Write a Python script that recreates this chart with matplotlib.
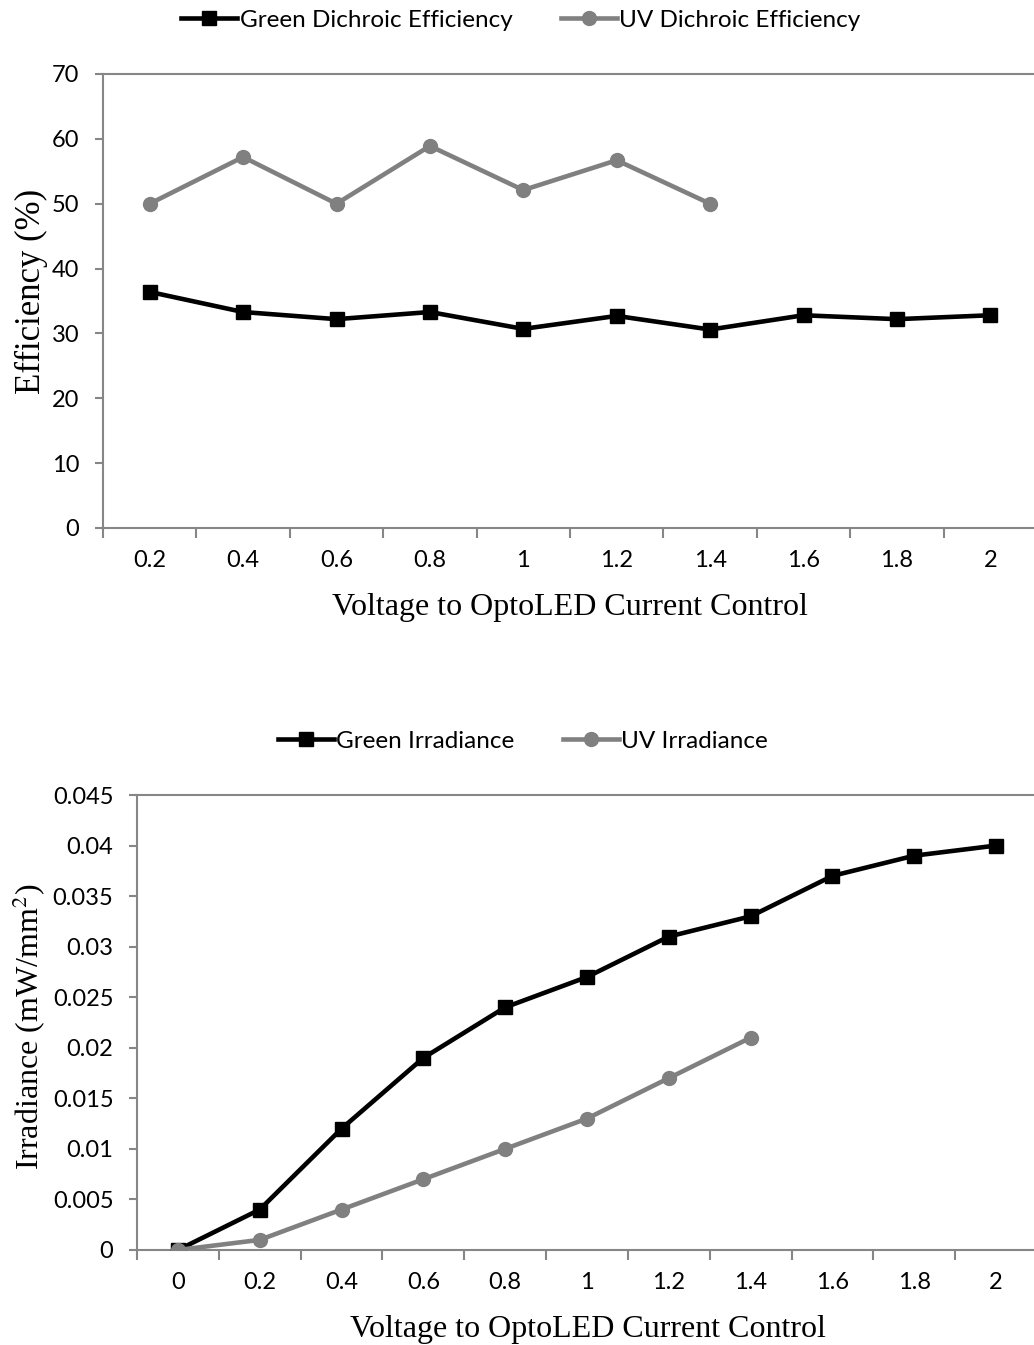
import matplotlib
matplotlib.use("Agg")
import matplotlib.pyplot as plt
import numpy as np

# Top chart data
eff_categories = ["0.2", "0.4", "0.6", "0.8", "1", "1.2", "1.4", "1.6", "1.8", "2"]
green_eff = [36.4, 33.3, 32.2, 33.3, 30.7, 32.7, 30.6, 32.8, 32.2, 32.8]
uv_eff = [50.0, 57.2, 50.0, 58.9, 52.1, 56.7, 50.0]

# Bottom chart data
irr_categories = ["0", "0.2", "0.4", "0.6", "0.8", "1", "1.2", "1.4", "1.6", "1.8", "2"]
green_irr = [0, 0.004, 0.012, 0.019, 0.024, 0.027, 0.031, 0.033, 0.037, 0.039, 0.040]
uv_irr = [0, 0.001, 0.004, 0.007, 0.010, 0.013, 0.017, 0.021]
irr_ticks = [0, 0.005, 0.01, 0.015, 0.02, 0.025, 0.03, 0.035, 0.04, 0.045]
irr_ticklabels = ["0", "0.005", "0.01", "0.015", "0.02", "0.025", "0.03", "0.035", "0.04", "0.045"]

plt.rcParams["mathtext.fontset"] = "stix"

TICKFONT = "Lato"
TITLEFONT = "Liberation Serif"
GRAY = "#868686"
UVCOL = "#808080"
TFS = 17
LFS = 17.5

W, H = 1034, 1345
fig = plt.figure(figsize=(W / 100, H / 100), dpi=100)

def style_axes(ax, ncat, labels):
    ax.spines["right"].set_visible(False)
    for s in ["left", "bottom", "top"]:
        ax.spines[s].set_color(GRAY)
        ax.spines[s].set_linewidth(1.5)
    ax.set_xlim(-0.5, ncat - 0.5)
    ax.set_xticks(np.arange(ncat))
    ax.set_xticklabels(labels, fontfamily=TICKFONT, fontsize=TFS)
    ax.tick_params(axis="x", which="major", length=0, pad=16)
    ax.set_xticks(np.arange(ncat + 1) - 0.5, minor=True)
    ax.tick_params(axis="x", which="minor", length=7, width=1.5, color=GRAY, direction="out")
    ax.tick_params(axis="y", length=6, width=1.5, color=GRAY, direction="out", pad=11)

def place(ax, left, top, right, bottom):
    ax.set_position([left / W, 1 - bottom / H, (right - left) / W, (bottom - top) / H])

# Top chart
ax1 = fig.add_axes([0, 0, 1, 1])
place(ax1, 103, 74, 1037, 528)
x1 = np.arange(len(eff_categories))
ax1.plot(x1, green_eff, color="black", lw=3.3, marker="s", ms=9.5,
         label="Green Dichroic Efficiency", zorder=3)
ax1.plot(x1[:len(uv_eff)], uv_eff, color=UVCOL, lw=3.3, marker="o", ms=10,
         label="UV Dichroic Efficiency", zorder=3)
ax1.set_ylim(0, 70)
ax1.set_yticks(range(0, 71, 10))
ax1.set_yticklabels([str(v) for v in range(0, 71, 10)], fontfamily=TICKFONT, fontsize=TFS)
style_axes(ax1, len(eff_categories), eff_categories)
ax1.set_ylabel("Efficiency (%)", fontfamily=TITLEFONT, fontsize=25)
ax1.yaxis.label.set_va("center")
ax1.yaxis.set_label_coords((31 - 103) / 934, (528 - 291) / 454)
ax1.set_xlabel("Voltage to OptoLED Current Control", fontfamily=TITLEFONT, fontsize=23)
ax1.xaxis.label.set_va("center")
ax1.xaxis.set_label_coords((570 - 103) / 934, (528 - 607) / 454)
ax1.legend(loc="center", bbox_to_anchor=((521 - 103) / 934, 1 + (74 - 20) / 454),
           ncol=2, frameon=False, prop={"family": TICKFONT, "size": LFS},
           handlelength=2.3, handletextpad=0.1, columnspacing=2.0, borderaxespad=0)

# Bottom chart
ax2 = fig.add_axes([0, 0, 1, 1])
place(ax2, 137, 795, 1037, 1250)
x2 = np.arange(len(irr_categories))
ax2.plot(x2, green_irr, color="black", lw=3.3, marker="s", ms=9.5,
         label="Green Irradiance", zorder=3)
ax2.plot(x2[:len(uv_irr)], uv_irr, color=UVCOL, lw=3.3, marker="o", ms=10,
         label="UV Irradiance", zorder=3)
ax2.set_ylim(0, 0.045)
ax2.set_yticks(irr_ticks)
ax2.set_yticklabels(irr_ticklabels, fontfamily=TICKFONT, fontsize=TFS)
style_axes(ax2, len(irr_categories), irr_categories)
ax2.set_ylabel("Irradiance (mW/mm$^{2}$)", fontfamily=TITLEFONT, fontsize=23)
ax2.yaxis.label.set_va("center")
ax2.yaxis.set_label_coords((29 - 137) / 900, (1250 - 1027) / 455)
ax2.set_xlabel("Voltage to OptoLED Current Control", fontfamily=TITLEFONT, fontsize=23)
ax2.xaxis.label.set_va("center")
ax2.xaxis.set_label_coords((588 - 137) / 900, (1250 - 1329) / 455)
ax2.legend(loc="center", bbox_to_anchor=((523 - 137) / 900, 1 + (795 - 741) / 455),
           ncol=2, frameon=False, prop={"family": TICKFONT, "size": LFS},
           handlelength=2.3, handletextpad=0.1, columnspacing=2.0, borderaxespad=0)

fig.savefig("out.png", dpi=100)
